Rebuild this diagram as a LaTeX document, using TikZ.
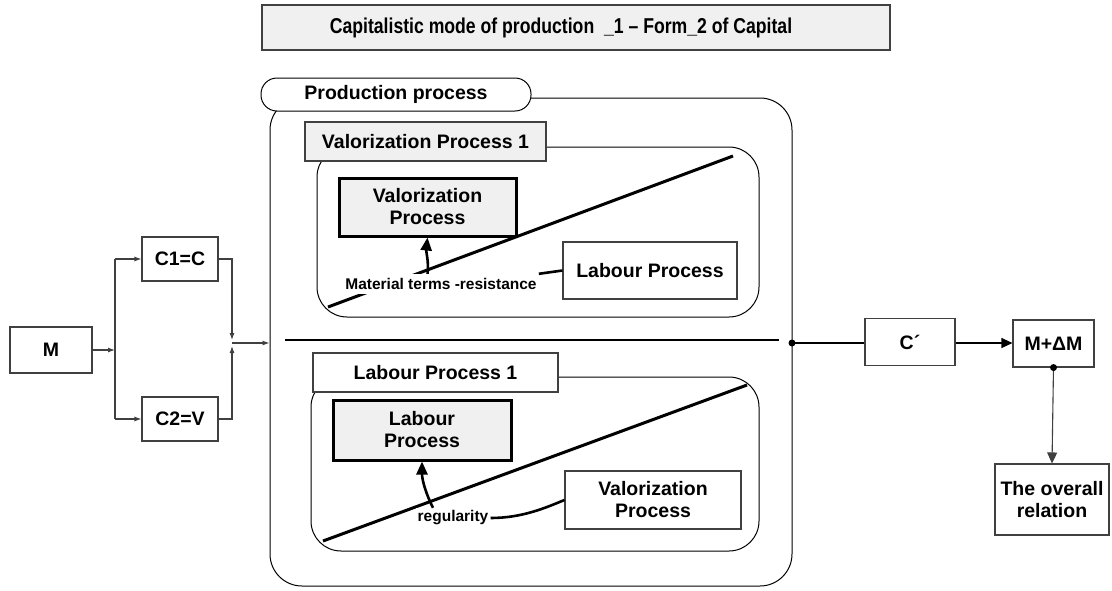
\documentclass[tikz,border=0pt]{standalone}
\usepackage{fontspec}
\setmainfont{Liberation Sans}
\newfontfamily\narrowfont[FakeStretch=0.82]{Liberation Sans}
\usetikzlibrary{arrows.meta}
\definecolor{linegray}{RGB}{64,64,64}
\definecolor{fillgray}{RGB}{240,240,240}
\begin{document}
\begin{tikzpicture}[x=1pt,y=-1pt,
  box/.style={draw=linegray, line width=1.1pt, fill=white, align=center, inner sep=0pt,
    font=\bfseries\fontsize{19.5}{22}\selectfont},
  graybox/.style={box, fill=fillgray},
  thickbox/.style={box, fill=fillgray, draw=black, line width=3pt},
  roundbox/.style={draw=black, line width=1pt, rounded corners=#1, inner sep=0pt},
  lbl/.style={fill=white, inner sep=2pt, font=\bfseries\fontsize{15.5}{18}\selectfont},
  thin/.style={draw=linegray, line width=1.1pt},
  sarrow/.style={thin, -{Latex[length=7pt,width=5pt]}},
  barrow/.style={draw=black, line width=1.1pt, -{Triangle[length=11pt,width=10pt]}},
  thickline/.style={draw=black, line width=3pt},
  curvearrow/.style={draw=black, line width=2.6pt, -{Triangle[length=13pt,width=11pt]}},
]
\useasboundingbox (0,0) rectangle (1112,590);
\fill[white] (0,0) rectangle (1112,590);

% title
\node[box, fill=fillgray, minimum width=628, minimum height=45] (title) at (576,27.5) {};
\node[font=\narrowfont\bfseries\fontsize{21.5}{24}\selectfont, inner sep=0pt] (titletext)
  at (561,27.5) {Capitalistic mode of production \ \_1 – Form\_2 of Capital};

% production process frame
\node[roundbox=32, minimum width=522, minimum height=488] (pp) at (531,342) {};
\node[roundbox=16, fill=white, minimum width=270, minimum height=33,
  font=\bfseries\fontsize{19.5}{22}\selectfont] (tab) at (396,94.5) {Production process};

% upper inner area
\node[roundbox=30, minimum width=442, minimum height=170] (upin) at (538,232) {};
\node[graybox, minimum width=241, minimum height=39] (vp1) at (425.5,141.5) {Valorization Process 1};
\coordinate (d1a) at (328,307);
\coordinate (d1b) at (733,156);
\draw[thickline] (d1a) -- (d1b);
\node[thickbox, minimum width=177, minimum height=58] (vpb) at (427.5,207) {Valorization\\Process};
\node[box, minimum width=174, minimum height=57] (lpu) at (650,270.5) {Labour Process};
\node[lbl, minimum height=20] (mat) at (441,284) {Material terms -resistance};
\draw[curvearrow] (mat.north -| vpb.south) .. controls (429,262) and (426,252) .. (vpb.south);
\draw[draw=black, line width=2.6pt] (mat.north east) -- (lpu.west);

% divider
\coordinate (dva) at (285,340);
\coordinate (dvb) at (779,340);
\draw[draw=black, line width=2pt] (dva) -- (dvb);

% lower inner area
\node[roundbox=30, minimum width=448, minimum height=174] (lowin) at (535,464) {};
\node[box, minimum width=245, minimum height=39] (lp1) at (435.5,372.5) {Labour Process 1};
\coordinate (d2a) at (323,541);
\coordinate (d2b) at (747,385);
\draw[thickline] (d2a) -- (d2b);
\node[thickbox, minimum width=178, minimum height=60] (lpb) at (422,430) {Labour\\Process};
\node[box, minimum width=176, minimum height=58] (vpl) at (653,500) {Valorization\\Process};
\node[lbl, minimum height=20] (reg) at (453,518) {regularity};
\draw[curvearrow] ([xshift=-20pt]reg.north) .. controls (426,494) and (422,480) .. (lpb.south);
\draw[draw=black, line width=2.6pt] (reg.east) .. controls (522,518) and (545,508) .. (vpl.west);

% left part
\node[box, minimum width=82, minimum height=46] (M) at (51,350) {M};
\node[box, minimum width=76, minimum height=44] (C1) at (180,259) {C1=C};
\node[box, minimum width=76, minimum height=44] (C2) at (180,419) {C2=V};
\coordinate (j1) at (115,350);
\coordinate (ja) at (115,259);
\coordinate (jb) at (115,419);
\draw[sarrow] (M.east) -- (j1);
\draw[thin] (ja) -- (jb);
\draw[sarrow] (ja) -- (C1.west);
\draw[sarrow] (jb) -- (C2.west);
\coordinate (jc) at (232,343);
\coordinate (jc1) at (232,340);
\coordinate (jc2) at (232,346);
\draw[sarrow] (C1.east) -| (jc1);
\draw[sarrow] (C2.east) -| (jc2);
\draw[sarrow] (jc) -- (jc -| pp.west);

% right part
\coordinate (pd) at (792,343);
\node[box, minimum width=90, minimum height=47] (Cp) at (910,342) {C\textasciiacute};
\node[box, minimum width=81, minimum height=47] (MdM) at (1053.5,343.5) {M+ΔM};
\node[box, minimum width=114, minimum height=71] (ov) at (1052,499.5) {The overall\\relation};
\draw[thin, draw=black] (pd) -- (pd -| Cp.west);
\draw[barrow] (Cp.east |- pd) -- (MdM.west |- pd);
\draw[barrow, draw=linegray] (MdM.south) -- (ov.north);
\fill[black] (pd) circle (3.5);
\fill[black] (MdM.south) circle (3.5);
\end{tikzpicture}
\end{document}
